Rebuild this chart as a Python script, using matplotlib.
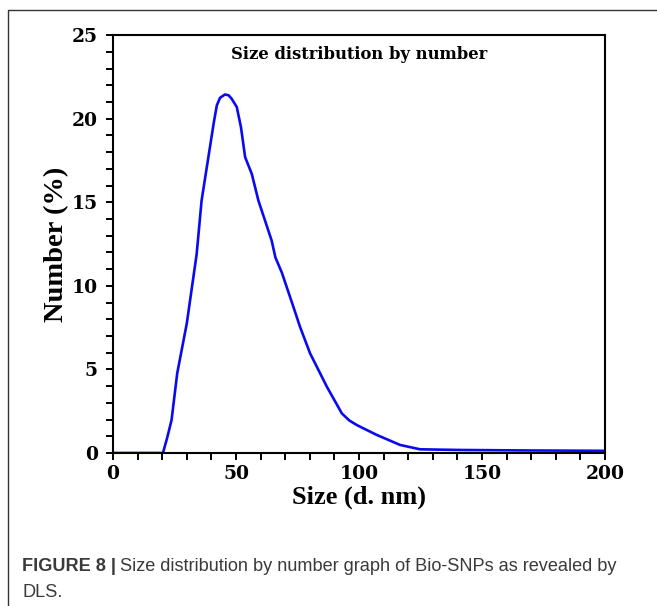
import numpy as np
import matplotlib.pyplot as plt
from matplotlib.lines import Line2D
from matplotlib.ticker import MultipleLocator

# values
size_nm = [0, 10, 20.3, 22, 23.8, 26.1, 30.0, 34.0, 36.0, 39.4, 41.0, 42.2, 43.5,
           45.5, 47.0, 48.2, 50.3, 52.0, 53.7, 56.4, 59.1, 61.8, 64.5, 66.0,
           68.6, 73.3, 76.0, 80.1, 86.9, 93.0, 96.0, 99.1, 107.2, 116.7, 124.8,
           141, 170, 200]
number_pct = [0, 0, 0, 0.9, 1.97, 4.77, 7.76, 11.9, 15.1, 18.3, 19.8, 20.8, 21.25,
              21.45, 21.4, 21.2, 20.7, 19.5, 17.7, 16.7, 15.1, 13.9, 12.7, 11.7,
              10.8, 8.75, 7.55, 5.96, 3.97, 2.37, 1.95, 1.67, 1.08, 0.48, 0.22,
              0.18, 0.15, 0.13]

plt.rcParams['font.family'] = ['Liberation Serif', 'DejaVu Serif']

fig = plt.figure(figsize=(6.57, 6.06), dpi=100)
ax = fig.add_axes([0.172, 0.2525, 0.749, 0.6895])

ax.plot(size_nm, number_pct, color='#0a0af0', lw=1.9, solid_joinstyle='round')

ax.set_xlim(0, 200)
ax.set_ylim(0, 25)
ax.xaxis.set_major_locator(MultipleLocator(50))
ax.xaxis.set_minor_locator(MultipleLocator(10))
ax.yaxis.set_major_locator(MultipleLocator(5))
ax.yaxis.set_minor_locator(MultipleLocator(1))
ax.tick_params(which='both', direction='out', width=1.4, length=5)
ax.tick_params(axis='y', pad=6)
for lab in ax.get_xticklabels() + ax.get_yticklabels():
    lab.set_fontweight('bold')
    lab.set_family('DejaVu Serif')
    lab.set_fontsize(13.5)
for s in ax.spines.values():
    s.set_linewidth(1.5)

ax.set_xlabel('Size (d. nm)', fontsize=19, fontweight='bold', labelpad=2)
ax.set_ylabel('Number (%)', fontsize=20.5, fontweight='bold', labelpad=1.5)
ax.text(0.5, 0.975, 'Size distribution by number', transform=ax.transAxes,
        ha='center', va='top', fontsize=11.8, fontweight='bold', family='DejaVu Serif')

# panel frame (top and left edges)
fig.add_artist(Line2D([0.012, 0.012, 1.0], [0.0, 0.983, 0.983],
                      transform=fig.transFigure, color='#333333', lw=1.0))

cap = dict(family=['Liberation Sans', 'DejaVu Sans'], fontsize=13.1, color='#3a3a3a')
t1 = fig.text(0.034, 0.066, 'FIGURE 8 |', fontweight='bold', va='center', **cap)
fig.canvas.draw()
bb = t1.get_window_extent().transformed(fig.transFigure.inverted())
fig.text(bb.x1 + 0.006, 0.066, 'Size distribution by number graph of Bio-SNPs as revealed by',
         va='center', **cap)
fig.text(0.034, 0.022, 'DLS.', va='center', **cap)

plt.savefig('out.png', dpi=100)
